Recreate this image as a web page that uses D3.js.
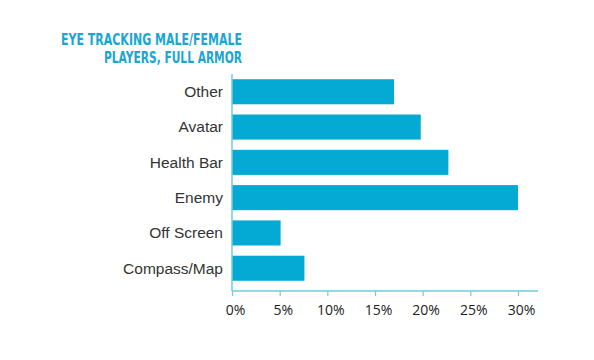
<!DOCTYPE html>
<html>
<head>
<meta charset="utf-8">
<script src="https://cdn.jsdelivr.net/npm/d3@7"></script>
<style>
    body { margin: 0; background: #fff; }
    svg { display: block; }
</style>
</head>
<body>
<div id="chart"></div>
<script>
// chart data
var categories = ["Other", "Avatar", "Health Bar", "Enemy", "Off Screen", "Compass/Map"];
var values = [17.0, 19.8, 22.7, 30.0, 5.1, 7.6];
var tickValues = [0, 5, 10, 15, 20, 25, 30];
var titleLines = ["EYE TRACKING MALE/FEMALE", "PLAYERS, FULL ARMOR"];

var width = 594, height = 360;
var barColor = "#04aad3";
var axisColor = "#6fcbe2";

var svg = d3.select("#chart").append("svg")
    .attr("width", width)
    .attr("height", height);

// scales
var x = d3.scaleLinear().domain([0, 32.1]).range([232, 538]);
var y = d3.scaleBand().domain(categories).range([74, 286]).paddingInner(0.29).paddingOuter(0.148);

// title, right aligned to the axis
var titleWidths = [181, 138];
svg.selectAll("text.title")
    .data(titleLines).enter()
    .append("text")
    .attr("class", "title")
    .attr("x", 242)
    .attr("y", function(d, i) { return 45 + i * 17.7; })
    .attr("text-anchor", "end")
    .attr("textLength", function(d, i) { return titleWidths[i]; })
    .attr("lengthAdjust", "spacingAndGlyphs")
    .style("font-family", "'DejaVu Sans Condensed', 'DejaVu Sans', sans-serif")
    .style("font-weight", "bold")
    .style("font-size", "16.5px")
    .style("fill", "#1ba6d1")
    .text(function(d) { return d; });

// bars
svg.selectAll("rect.bar")
    .data(values).enter()
    .append("rect")
    .attr("class", "bar")
    .attr("x", x(0))
    .attr("y", function(d, i) { return y(categories[i]); })
    .attr("width", function(d) { return x(d) - x(0); })
    .attr("height", y.bandwidth())
    .style("fill", barColor);

// category labels
svg.selectAll("text.cat")
    .data(categories).enter()
    .append("text")
    .attr("class", "cat")
    .attr("x", 223)
    .attr("y", function(d) { return y(d) + y.bandwidth() / 2; })
    .attr("dy", "0.35em")
    .attr("text-anchor", "end")
    .style("font-family", "'Liberation Sans', Arial, sans-serif")
    .style("font-size", "15.5px")
    .style("fill", "#333")
    .text(function(d) { return d; });

// vertical axis line
svg.append("line")
    .attr("x1", x(0)).attr("x2", x(0))
    .attr("y1", 74).attr("y2", 291)
    .style("stroke", axisColor)
    .style("stroke-width", 1.5);

// bottom axis
var xAxis = d3.axisBottom(x)
    .tickValues(tickValues)
    .tickSize(5)
    .tickPadding(9)
    .tickFormat(function(d) { return d + "%"; });

var gx = svg.append("g")
    .attr("transform", "translate(0,291)")
    .call(xAxis);
gx.select(".domain")
    .attr("d", "M" + x.range()[0] + ",0H" + x.range()[1])
    .style("stroke", axisColor)
    .style("stroke-width", 1.5);
gx.selectAll(".tick line")
    .style("stroke", axisColor)
    .style("stroke-width", 1.2);
gx.selectAll(".tick text")
    .attr("dx", 3)
    .style("font-family", "'Open Sans', sans-serif")
    .style("font-size", "14px")
    .style("fill", "#222");
</script>
</body>
</html>
